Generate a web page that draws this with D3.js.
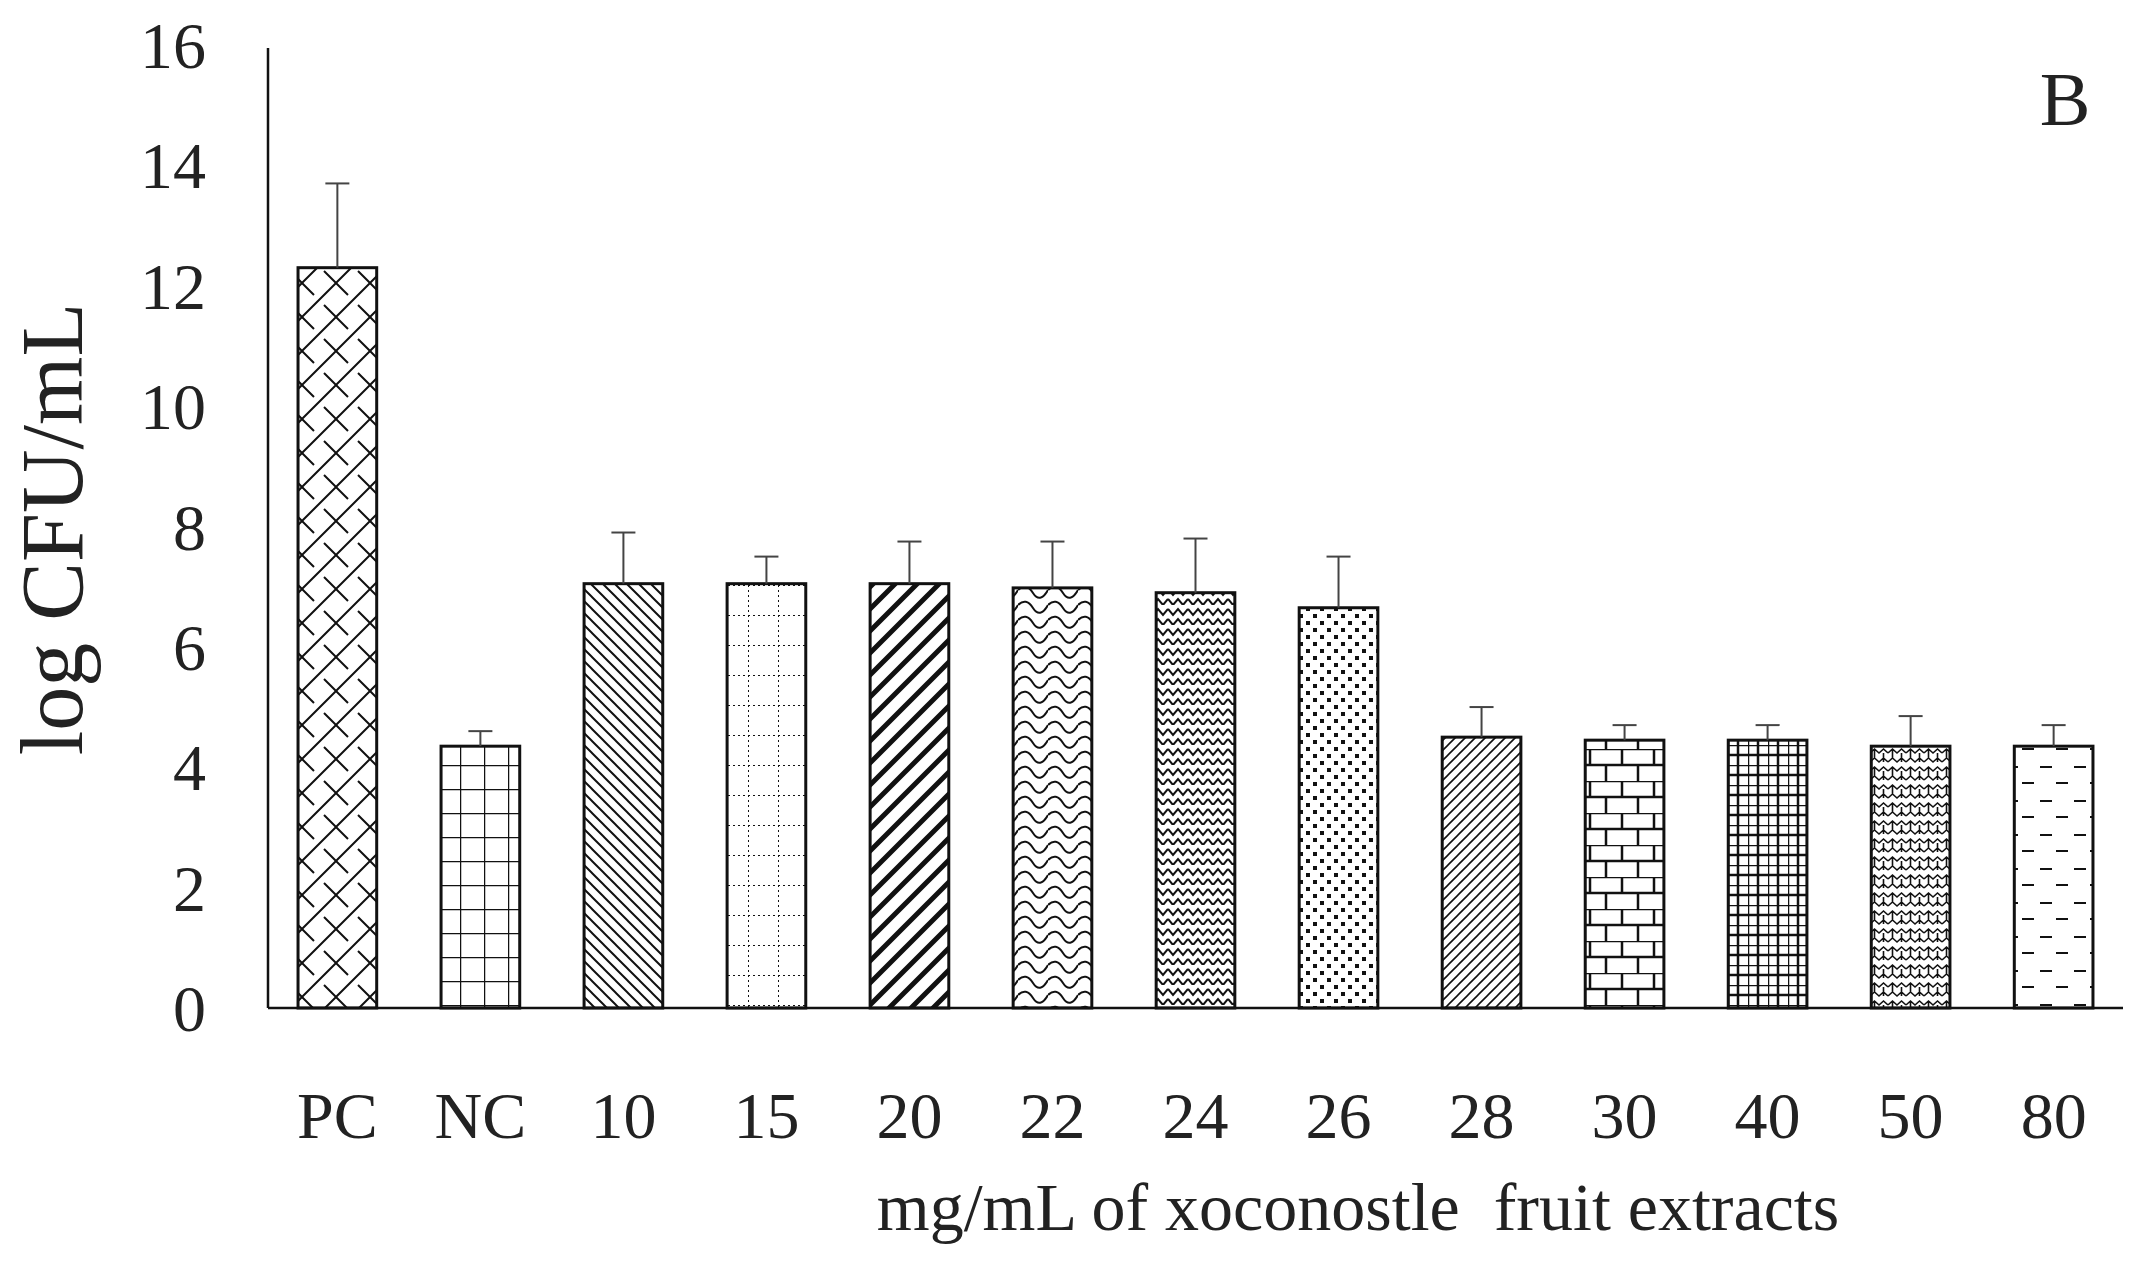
<!DOCTYPE html>
<html><head><meta charset="utf-8">
<script src="https://cdn.jsdelivr.net/npm/d3@7"></script>
<style>body{margin:0;background:#fff}svg text{font-family:"Liberation Serif","DejaVu Serif",serif;fill:#222}</style>
</head><body><div id="chart"></div>
<script>
// values
const categories = ["PC","NC","10","15","20","22","24","26","28","30","40","50","80"];
const means = [12.3,4.35,7.05,7.05,7.05,6.98,6.9,6.65,4.5,4.45,4.45,4.35,4.35];
const errors = [1.4,0.25,0.85,0.45,0.7,0.77,0.9,0.85,0.5,0.25,0.25,0.5,0.35];
const yTicks = [0,2,4,6,8,10,12,14,16];

const W = 2155, H = 1266;
const margin = {top: 45, right: 32, bottom: 258, left: 268};
const width = W - margin.left - margin.right, height = H - margin.top - margin.bottom;

const svg = d3.select("#chart").append("svg").attr("width", W).attr("height", H);
const defs = svg.append("defs");

// hatch patterns, one per bar
function pat(id, size, draw) {
  const p = defs.append("pattern").attr("id", id).attr("patternUnits", "userSpaceOnUse")
    .attr("width", size).attr("height", size);
  p.append("rect").attr("width", size).attr("height", size).attr("fill", "#fff");
  draw(p);
}
const st = (s, w) => s.attr("stroke", "#111").attr("stroke-width", w).attr("fill", "none");
pat("p0", 34, p => { st(p.append("path").attr("d","M0,34L34,0M-8,8L8,-8M26,42L42,26"),2);
  st(p.append("path").attr("d","M0,0L12,12M22,22L34,34"),2); });
pat("p1", 24, p => st(p.append("path").attr("d","M0,0H24M0,0V24"),2.5));
pat("p2", 12, p => st(p.append("path").attr("d","M0,0L12,12M-6,6L6,18M6,-6L18,6"),2));
pat("p3", 30, p => st(p.append("path").attr("d","M0,0H30M0,0V30"),2).attr("stroke-dasharray","2,3"));
pat("p4", 22, p => st(p.append("path").attr("d","M0,22L22,0M-11,11L11,-11M11,33L33,11"),5));
pat("p5", 30, p => st(p.append("path").attr("d","M0,5Q8,-3 15,8T30,5M0,20Q8,12 15,23T30,20"),2));
pat("p6", 20, p => st(p.append("path").attr("d","M0,4L5,10L10,4L15,10L20,4M0,14L5,20L10,14L15,20L20,14"),2));
pat("p7", 14, p => { p.append("rect").attr("x",2).attr("y",2).attr("width",4).attr("height",4).attr("fill","#111");
  p.append("rect").attr("x",9).attr("y",9).attr("width",4).attr("height",4).attr("fill","#111"); });
pat("p8", 10, p => st(p.append("path").attr("d","M0,10L10,0M-5,5L5,-5M5,15L15,5"),1.6));
pat("p9", 32, p => st(p.append("path").attr("d","M0,0H32M0,16H32M10,0V16M26,16V32"),2.5));
pat("p10", 20, p => st(p.append("path").attr("d","M0,0H20M0,10H20M0,0V20M10,0V20"),2.5));
pat("p11", 18, p => st(p.append("path").attr("d","M0,6L4.5,2L9,6L13.5,2L18,6M0,15L4.5,11L9,15L13.5,11L18,15M4.5,2V11M13.5,6V15"),1.6));
pat("p12", 34, p => st(p.append("path").attr("d","M4,8H16M20,24H32"),2.2));

const g = svg.append("g").attr("transform", `translate(${margin.left},${margin.top})`);
const x = d3.scaleBand().domain(categories).range([0, width]).paddingInner(0.45).paddingOuter(0.21);
const y = d3.scaleLinear().domain([0, 16]).range([height, 0]);

// y axis: line only, labels without ticks
g.append("line").attr("x1",0).attr("x2",0).attr("y1",y(16)+3).attr("y2",height).attr("stroke","#111").attr("stroke-width",2.5);
g.selectAll(".ytick").data(yTicks).enter().append("text")
  .attr("x", -62).attr("y", d => y(d)).attr("dy","0.35em").attr("text-anchor","end")
  .style("font-size","66px").text(d => d);

// bars
g.selectAll(".bar").data(categories).enter().append("rect")
  .attr("x", d => x(d)).attr("width", x.bandwidth())
  .attr("y", (d,i) => y(means[i])).attr("height", (d,i) => height - y(means[i]))
  .attr("fill", (d,i) => `url(#p${i})`).attr("stroke","#111").attr("stroke-width",3);

// error bars (upper only)
const err = g.selectAll(".err").data(categories).enter().append("g");
err.append("line").attr("x1", d => x(d)+x.bandwidth()/2).attr("x2", d => x(d)+x.bandwidth()/2)
  .attr("y1",(d,i)=>y(means[i])).attr("y2",(d,i)=>y(means[i]+errors[i])).attr("stroke","#444").attr("stroke-width",2);
err.append("line").attr("x1", d => x(d)+x.bandwidth()/2-12).attr("x2", d => x(d)+x.bandwidth()/2+12)
  .attr("y1",(d,i)=>y(means[i]+errors[i])).attr("y2",(d,i)=>y(means[i]+errors[i])).attr("stroke","#444").attr("stroke-width",2);

// x axis
g.append("line").attr("x1",0).attr("x2",width).attr("y1",height).attr("y2",height).attr("stroke","#111").attr("stroke-width",2.5);
g.selectAll(".xtick").data(categories).enter().append("text")
  .attr("x", d => x(d)+x.bandwidth()/2).attr("y", height + 130).attr("text-anchor","middle")
  .style("font-size","66px").text(d => d);

svg.append("text").attr("x", 1358).attr("y", 1230).attr("text-anchor","middle")
  .style("font-size","68px").style("white-space","pre").text("mg/mL of xoconostle  fruit extracts");
svg.append("text").attr("transform","translate(82,529) rotate(-90)").attr("text-anchor","middle")
  .style("font-size","88px").text("log CFU/mL");
svg.append("text").attr("x", 2065).attr("y", 125).attr("text-anchor","middle")
  .style("font-size","76px").text("B");
</script></body></html>
